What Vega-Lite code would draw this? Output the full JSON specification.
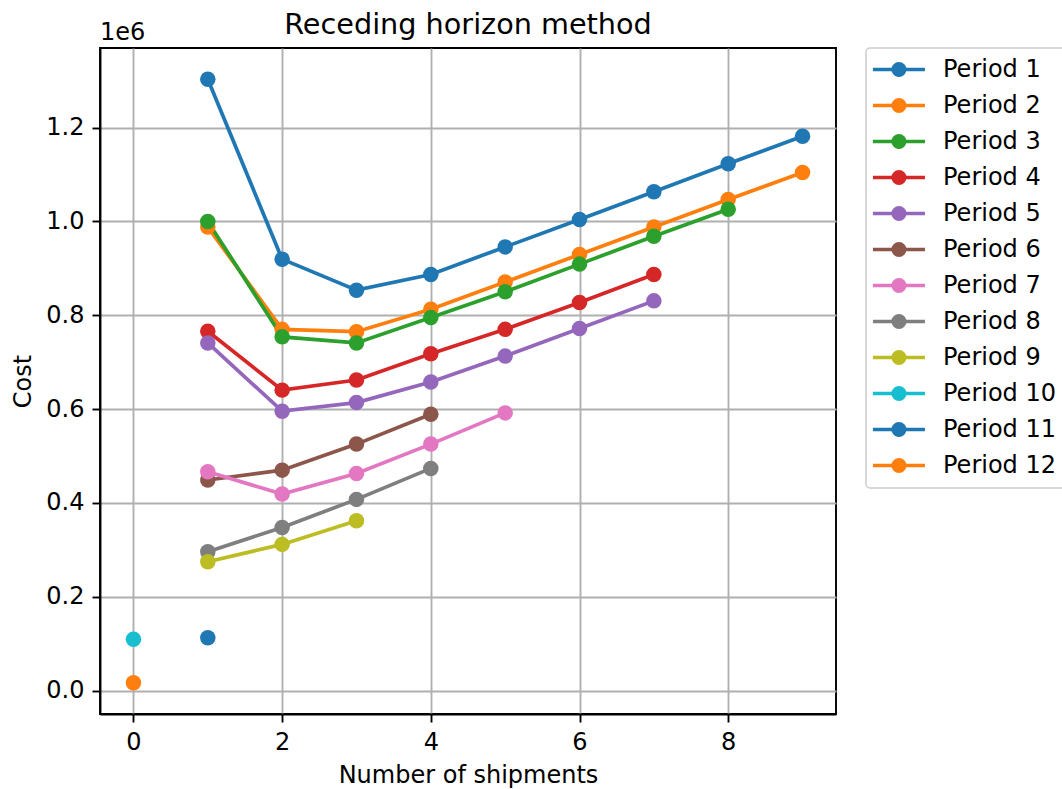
{
  "$schema": "https://vega.github.io/schema/vega-lite/v6.json",
  "autosize": {"type": "none"},
  "padding": {"left": 100, "top": 48, "right": 226, "bottom": 75},
  "width": 736,
  "height": 666,
  "background": "white",
  "title": {
    "text": "Receding horizon method",
    "font": "DejaVu Sans",
    "fontSize": 28.7,
    "fontWeight": "normal",
    "color": "black",
    "anchor": "middle",
    "offset": 10,
    "dy": 29
  },
  "config": {
    "view": {"stroke": "black", "strokeWidth": 1.9},
    "axis": {
      "labelFont": "DejaVu Sans",
      "labelFontSize": 24,
      "labelColor": "black",
      "titleFont": "DejaVu Sans",
      "titleFontSize": 24,
      "titleFontWeight": "normal",
      "titleColor": "black",
      "domainColor": "black",
      "domainWidth": 1.9,
      "tickColor": "black",
      "tickWidth": 1.9,
      "tickSize": 8,
      "labelPadding": 8,
      "gridColor": "#b0b0b0",
      "gridWidth": 1.9
    },
    "legend": {
      "labelFont": "DejaVu Sans",
      "labelFontSize": 24,
      "labelColor": "black",
      "strokeColor": "#cccccc",
      "strokeWidth": 1.5,
      "cornerRadius": 4,
      "padding": 9,
      "offset": 30,
      "rowPadding": 9,
      "labelOffset": 43,
      "titlePadding": 0
    }
  },
  "data": {
    "values": [
      {"period": "Period 1", "shipments": 1, "cost": 1303000},
      {"period": "Period 1", "shipments": 2, "cost": 919500},
      {"period": "Period 1", "shipments": 3, "cost": 853500},
      {"period": "Period 1", "shipments": 4, "cost": 887000},
      {"period": "Period 1", "shipments": 5, "cost": 945700},
      {"period": "Period 1", "shipments": 6, "cost": 1004000},
      {"period": "Period 1", "shipments": 7, "cost": 1063000},
      {"period": "Period 1", "shipments": 8, "cost": 1123000},
      {"period": "Period 1", "shipments": 9, "cost": 1181500},
      {"period": "Period 2", "shipments": 1, "cost": 988000},
      {"period": "Period 2", "shipments": 2, "cost": 770000},
      {"period": "Period 2", "shipments": 3, "cost": 765000},
      {"period": "Period 2", "shipments": 4, "cost": 813000},
      {"period": "Period 2", "shipments": 5, "cost": 871000},
      {"period": "Period 2", "shipments": 6, "cost": 929500},
      {"period": "Period 2", "shipments": 7, "cost": 988000},
      {"period": "Period 2", "shipments": 8, "cost": 1046600},
      {"period": "Period 2", "shipments": 9, "cost": 1104000},
      {"period": "Period 3", "shipments": 1, "cost": 1000000},
      {"period": "Period 3", "shipments": 2, "cost": 754000},
      {"period": "Period 3", "shipments": 3, "cost": 741000},
      {"period": "Period 3", "shipments": 4, "cost": 795000},
      {"period": "Period 3", "shipments": 5, "cost": 850000},
      {"period": "Period 3", "shipments": 6, "cost": 909000},
      {"period": "Period 3", "shipments": 7, "cost": 968500},
      {"period": "Period 3", "shipments": 8, "cost": 1026000},
      {"period": "Period 4", "shipments": 1, "cost": 766000},
      {"period": "Period 4", "shipments": 2, "cost": 640500},
      {"period": "Period 4", "shipments": 3, "cost": 662000},
      {"period": "Period 4", "shipments": 4, "cost": 718000},
      {"period": "Period 4", "shipments": 5, "cost": 770000},
      {"period": "Period 4", "shipments": 6, "cost": 827000},
      {"period": "Period 4", "shipments": 7, "cost": 887000},
      {"period": "Period 5", "shipments": 1, "cost": 741000},
      {"period": "Period 5", "shipments": 2, "cost": 595700},
      {"period": "Period 5", "shipments": 3, "cost": 614000},
      {"period": "Period 5", "shipments": 4, "cost": 658000},
      {"period": "Period 5", "shipments": 5, "cost": 713000},
      {"period": "Period 5", "shipments": 6, "cost": 772000},
      {"period": "Period 5", "shipments": 7, "cost": 830700},
      {"period": "Period 6", "shipments": 1, "cost": 449000},
      {"period": "Period 6", "shipments": 2, "cost": 470000},
      {"period": "Period 6", "shipments": 3, "cost": 525500},
      {"period": "Period 6", "shipments": 4, "cost": 589000},
      {"period": "Period 7", "shipments": 1, "cost": 466500},
      {"period": "Period 7", "shipments": 2, "cost": 419000},
      {"period": "Period 7", "shipments": 3, "cost": 463000},
      {"period": "Period 7", "shipments": 4, "cost": 525500},
      {"period": "Period 7", "shipments": 5, "cost": 592000},
      {"period": "Period 8", "shipments": 1, "cost": 296000},
      {"period": "Period 8", "shipments": 2, "cost": 348000},
      {"period": "Period 8", "shipments": 3, "cost": 407700},
      {"period": "Period 8", "shipments": 4, "cost": 473700},
      {"period": "Period 9", "shipments": 1, "cost": 274800},
      {"period": "Period 9", "shipments": 2, "cost": 311800},
      {"period": "Period 9", "shipments": 3, "cost": 362000},
      {"period": "Period 10", "shipments": 0, "cost": 109500},
      {"period": "Period 11", "shipments": 1, "cost": 113000},
      {"period": "Period 12", "shipments": 0, "cost": 17000}
    ]
  },
  "layer": [
    {
      "mark": {"type": "line", "strokeWidth": 3.7, "point": {"filled": true, "size": 240, "opacity": 1}},
      "encoding": {
        "x": {
          "field": "shipments",
          "type": "quantitative",
          "scale": {"domain": [-0.45, 9.45], "nice": false, "zero": false},
          "axis": {"values": [0, 2, 4, 6, 8], "title": "Number of shipments", "titlePadding": 9, "format": "d"}
        },
        "y": {
          "field": "cost",
          "type": "quantitative",
          "scale": {"domain": [-49600, 1369500], "nice": false, "zero": false},
          "axis": {
            "values": [0, 200000, 400000, 600000, 800000, 1000000, 1200000],
            "title": "Cost",
            "titlePadding": 10,
            "labelExpr": "format(datum.value / 1000000, '.1f')"
          }
        },
        "color": {
          "field": "period",
          "type": "nominal",
          "scale": {
            "domain": ["Period 1", "Period 2", "Period 3", "Period 4", "Period 5", "Period 6", "Period 7", "Period 8", "Period 9", "Period 10", "Period 11", "Period 12"],
            "range": ["#1f77b4", "#ff7f0e", "#2ca02c", "#d62728", "#9467bd", "#8c564b", "#e377c2", "#7f7f7f", "#bcbd22", "#17becf", "#1f77b4", "#ff7f0e"]
          },
          "legend": {
            "title": null,
            "symbolType": "M-1.4,0L3.6,0M1.65,0A0.55,0.55,0,1,1,0.55,0A0.55,0.55,0,1,1,1.65,0Z",
            "symbolSize": 433,
            "symbolStrokeWidth": 3.7,
            "encode": {
              "symbols": {
                "update": {
                  "fill": {"scale": "color", "field": "value"},
                  "fillOpacity": {"value": 1},
                  "opacity": {"value": 1}
                }
              }
            }
          }
        }
      }
    },
    {
      "data": {"values": [{}]},
      "mark": {"type": "text", "text": "1e6", "font": "DejaVu Sans", "fontSize": 24, "color": "black", "align": "left", "baseline": "alphabetic", "dy": -8},
      "encoding": {
        "x": {"datum": -0.45, "type": "quantitative"},
        "y": {"datum": 1369500, "type": "quantitative"}
      }
    }
  ]
}
